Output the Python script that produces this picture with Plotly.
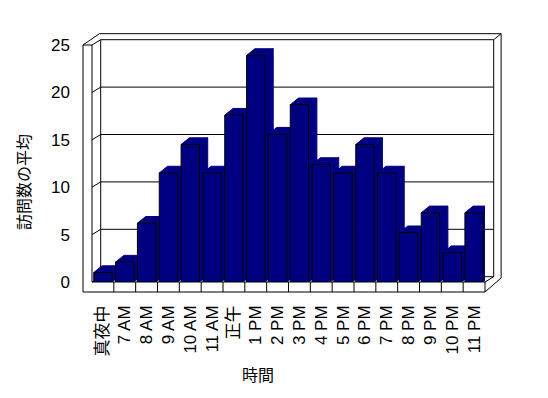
import plotly.graph_objects as go

# ---- data ----
categories = ["真夜中", "7 AM", "8 AM", "9 AM", "10 AM", "11 AM", "正午", "1 PM", "2 PM",
              "3 PM", "4 PM", "5 PM", "6 PM", "7 PM", "8 PM", "9 PM", "10 PM", "11 PM"]
visits = [1.0, 2.1, 6.2, 11.5, 14.5, 11.5, 17.6, 23.9, 15.6,
          18.7, 12.4, 11.5, 14.5, 11.5, 5.2, 7.3, 3.1, 7.3]
y_ticks = [0, 5, 10, 15, 20, 25]
y_title = "訪問数の平均"
x_title = "時間"

# ---- geometry (reference-window pixels; page body has an 8px margin) ----
OFF = 8
W, H = 548 - OFF, 398 - OFF
L, T = 92, 45          # front plane left / top in window px
XR, Y0 = 485, 282      # front plane right / value-0 row in window px
PW, PH = XR - L, Y0 - T
N = len(categories)
YMAX = 25
pxc = PW / N          # px per category
pxv = PH / YMAX       # px per value unit


def PX(px):
    return (px - L) / PW


def PY(py):
    return (Y0 - py) / PH


NAVY = "#000080"
FONT = "Liberation Sans, Arial, Noto Sans CJK JP"

# bar 3D depth offset
bdx, bdy = 8.3 / pxc, 6.7 / pxv
hw = 0.42

side_x, side_y, top_x, top_y = [], [], [], []
for i, v in enumerate(visits):
    xl, xr = i - hw, i + hw
    side_x += [xr, xr, xr + bdx, xr + bdx, xr, None]
    side_y += [0, v, v + bdy, bdy, 0, None]
    top_x += [xl, xr, xr + bdx, xl + bdx, xl, None]
    top_y += [v, v, v + bdy, v + bdy, v, None]

fig = go.Figure()
fig.add_trace(go.Scatter(x=side_x, y=side_y, mode="lines", fill="toself",
                         fillcolor=NAVY, line=dict(color=NAVY, width=1),
                         hoverinfo="skip", showlegend=False))
fig.add_trace(go.Scatter(x=top_x, y=top_y, mode="lines", fill="toself",
                         fillcolor=NAVY, line=dict(color=NAVY, width=1),
                         hoverinfo="skip", showlegend=False,
                         xaxis="x2", yaxis="y2"))
fig.add_trace(go.Bar(x=list(range(N)), y=visits, width=2 * hw,
                     marker=dict(color=NAVY, line=dict(color="black", width=1)),
                     showlegend=False, xaxis="x3", yaxis="y3",
                     hovertext=categories))

# ---- walls / floor decoration (pixel offsets, paper coords) ----
segs = []
dwx, dwy = 8.7, 5.3      # wall depth offset in px
bl = L + dwx             # back wall left
br = XR + dwx            # back wall right
bt = Y0 - YMAX * pxv - dwy
segs += [
    ((83, T), (L, T)), ((83, T), (83, Y0 + 10)), ((L, T), (L, Y0)),
    ((83, T), (bl - 1.3, bt - 6)), ((L, T), (bl, bt)),
    ((bl, bt), (bl, Y0 - dwy)),
    ((bl, bt), (br, bt)), ((bl - 1.3, bt - 6), (br + 7.4, bt - 6)),
    ((br, bt), (br, Y0 - dwy)), ((br + 7.4, bt - 6), (br + 7.4, Y0 - 4)),
    ((br, bt), (br + 7.4, bt - 6)),
    ((L, Y0), (XR, Y0)), ((83, Y0 + 10), (XR, Y0 + 10)),
    ((XR, Y0), (XR, Y0 + 10)),
    ((XR, Y0), (br, Y0 - dwy)), ((XR, Y0 + 10), (br + 7.4, Y0 - 4)),
]
for g in y_ticks[:-1]:
    yf = Y0 - g * pxv
    segs.append(((L, yf), (bl, yf - dwy)))
    segs.append(((bl, yf - dwy), (br, yf - dwy)))
for k in range(1, N):
    xk = L + k * pxc
    segs.append(((xk, Y0), (xk, Y0 + 10)))

shapes = [dict(type="line", xref="paper", yref="paper", layer="below",
               x0=PX(a[0]), y0=PY(a[1]), x1=PX(b[0]), y1=PY(b[1]),
               line=dict(color="black", width=1)) for a, b in segs]

rng_x = [-0.5, N - 0.5]
rng_y = [0, YMAX]
fig.update_layout(
    template="none",
    width=W, height=H,
    margin=dict(l=L - OFF, r=W - (XR - OFF), t=T - OFF, b=H - (Y0 - OFF), pad=0),
    paper_bgcolor="white", plot_bgcolor="rgba(0,0,0,0)",
    font=dict(family=FONT, size=16, color="black"),
    showlegend=False,
    shapes=shapes,
    xaxis=dict(range=rng_x, tickvals=list(range(N)), ticktext=categories,
               tickangle=-90, showgrid=False, zeroline=False, showline=False,
               ticks="", ticklabelstandoff=19, fixedrange=True, automargin=False,
               tickfont=dict(family=FONT, size=17)),
    yaxis=dict(range=rng_y, tickvals=y_ticks, showgrid=False, zeroline=False,
               showline=False, ticks="", ticklabelstandoff=21, fixedrange=True,
               automargin=False, tickfont=dict(family=FONT, size=17)),
    xaxis2=dict(overlaying="x", range=rng_x, visible=False, fixedrange=True),
    yaxis2=dict(overlaying="y", range=rng_y, visible=False, fixedrange=True),
    xaxis3=dict(overlaying="x", range=rng_x, visible=False, fixedrange=True),
    yaxis3=dict(overlaying="y", range=rng_y, visible=False, fixedrange=True),
    annotations=[
        dict(text=x_title, xref="paper", yref="paper",
             x=PX(258), y=PY(375.5),
             xanchor="center", yanchor="middle", showarrow=False,
             font=dict(family=FONT, size=16)),
        dict(text=y_title, xref="paper", yref="paper",
             x=PX(24), y=PY(182), textangle=-90,
             xanchor="center", yanchor="middle", showarrow=False,
             font=dict(family=FONT, size=16)),
    ],
)

fig.write_html("out.html")
